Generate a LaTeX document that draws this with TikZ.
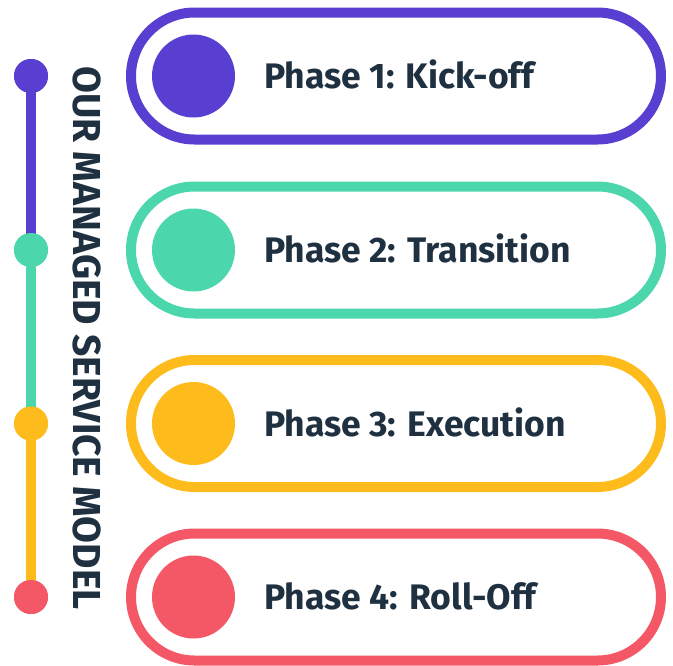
\documentclass[tikz,border=0pt]{standalone}
\usepackage{fontspec}
\setmainfont{Fira Sans}
\definecolor{phpurple}{HTML}{583FD2}
\definecolor{phgreen}{HTML}{4CD6AC}
\definecolor{phyellow}{HTML}{FDBC1B}
\definecolor{phred}{HTML}{F45866}
\definecolor{inkdark}{HTML}{1F3040}
\begin{document}
\begin{tikzpicture}[x=1pt,y=-1pt,
  pill/.style={line width=10pt},
  bullet/.style={circle,inner sep=0pt,minimum size=83pt},
  dot/.style={circle,inner sep=0pt,minimum size=34pt},
  rail/.style={line width=10.5pt},
  phaselabel/.style={anchor=base west,inner sep=0pt,text=inkdark,font=\fontsize{35.5}{38}\selectfont\bfseries},
  title/.style={anchor=base,inner sep=0pt,rotate=-90,text=inkdark,font=\fontsize{39}{42}\selectfont\bfseries}]
\useasboundingbox (0,0) rectangle (673,665);

% phase pills with their bullets and labels
\foreach \n/\c/\col/\txt in {1/76/phpurple/{Phase 1: Kick-off},
                             2/250/phgreen/{Phase 2: Transition},
                             3/423.5/phyellow/{Phase 3: Execution},
                             4/597/phred/{Phase 4: Roll-Off}} {
  \draw[pill,draw=\col,rounded corners=63.5pt] (131,\c-63.5) rectangle (661,\c+63.5);
  \node[bullet,fill=\col] (b\n) at (193.5,\c) {};
  \node[phaselabel] (p\n) at (264,\c+12.5) {\txt};
  \node[dot,fill=\col] (d\n) at (31,\c) {};
}

% timeline rail
\draw[rail,phpurple] (d1.center) -- (d2.center);
\draw[rail,phgreen] (d2.center) -- (d3.center);
\draw[rail,phyellow] (d3.center) -- (d4.center);
\foreach \n/\col in {1/phpurple,2/phgreen,3/phyellow,4/phred}
  \fill[\col] (d\n) circle (17pt);

% vertical title
\node[title] (model) at (73,338) {OUR MANAGED SERVICE MODEL};
\end{tikzpicture}
\end{document}
